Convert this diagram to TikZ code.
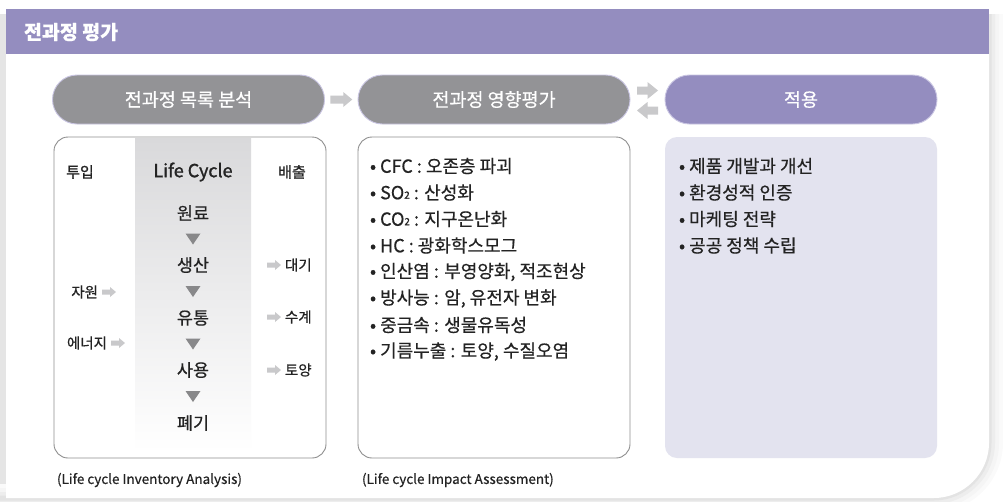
\documentclass[tikz,border=0pt]{standalone}
\usepackage{fontspec}
\setmainfont{Noto Sans CJK KR}[FakeBold=0.5]
\newfontfamily\medfont{Noto Sans CJK KR}[FakeBold=1.4]
\usetikzlibrary{calc}
\definecolor{hdr}{HTML}{948DBF}
\definecolor{pillgray}{HTML}{939396}
\definecolor{pillline}{HTML}{C9C5E2}
\definecolor{arrgray}{HTML}{C9C9CB}
\definecolor{boxline}{HTML}{8E8E8E}
\definecolor{lav}{HTML}{E3E3EF}
\definecolor{txt}{HTML}{232323}
\definecolor{trigray}{HTML}{88888A}
\definecolor{colgray}{HTML}{D9D9DB}
\newcommand\fs[1]{\fontsize{#1}{#1}\selectfont}
\newcommand\subtwo{\raisebox{0.5pt}{\fs{10}2}}
\tikzset{
  every node/.style={inner sep=0pt, outer sep=0pt},
  pill/.style={draw=pillline, line width=0.9pt, rounded corners=24.5pt,
    minimum width=272pt, minimum height=49pt, text=white, font=\fs{18.5}},
  framebox/.style={draw=boxline, line width=0.9pt, rounded corners=14pt,
    minimum width=272pt, minimum height=321pt},
  stagetext/.style={text=txt, font=\fs{17.5}},
  colhead/.style={text=txt, font=\medfont\fs{15}},
  smalltext/.style={text=txt, font=\fs{14.5}},
  itemtext/.style={text=txt, font=\fs{18}, anchor=west},
  captext/.style={text=txt, font=\fs{13.5}, anchor=west},
  pics/smallarr/.style={code={\fill[arrgray] (-7,-2.5) -- (1,-2.5) -- (1,-5) -- (7,0) -- (1,5) -- (1,2.5) -- (-7,2.5) -- cycle;}},
  pics/bigarr/.style={code={\fill[arrgray] (-11,-4) -- (2,-4) -- (2,-7.5) -- (11,0) -- (2,7.5) -- (2,4) -- (-11,4) -- cycle;}},
  pics/dblarr/.style={code={\fill[arrgray] (-10.5,-4) -- (0,-4) -- (0,-8.5) -- (10.5,0) -- (0,8.5) -- (0,4) -- (-10.5,4) -- cycle;}},
  pics/downtri/.style={code={\fill[trigray] (-7.5,-5.5) -- (7.5,-5.5) -- (0,5.5) -- cycle;}},
}
\begin{document}
\begin{tikzpicture}[x=1pt,y=-1pt]
\useasboundingbox (0,0) rectangle (1003,501);
% shadows of the panel
\fill[black!10] (0,14) rectangle (6,498);
\foreach \w/\c in {28/2,20/4,12/7,5/11}
  \draw[line width=\w pt, black!\c] (989,14) -- (989,443) .. controls (989,473) and (964,498) .. (934,498) -- (0,498);
% white panel
\fill[white] (6,9) -- (989,9) -- (989,443) .. controls (989,473) and (964,498) .. (934,498) -- (6,498) -- cycle;
% header
\fill[hdr] (6,9) rectangle (989,54);
\node[anchor=west, text=white, font=\bfseries\fs{19.5}] (title) at (24,32) {전과정 평가};
% pills
\node[pill, fill=pillgray] (p1) at (188.5,99.5) {전과정 목록 분석};
\node[pill, fill=pillgray] (p2) at (494,99.5) {전과정 영향평가};
\node[pill, fill=hdr] (p3) at (801,99.5) {적용};
\pic at ($(p1.east)!0.5!(p2.west)$) {bigarr};
\pic at ($(p2.east)!0.5!(p3.west)+(0,-9)$) {dblarr};
\pic[xscale=-1] at ($(p2.east)!0.5!(p3.west)+(0,11)$) {dblarr};
% box 1
\shade[top color=colgray, bottom color=white] (135,138) rectangle (251,452);
\node[framebox] (b1) at (190,297.5) {};
\node[colhead] (tin) at (80,172) {투입};
\node[text=txt, font=\medfont\fs{18}] (tlc) at (193,172) {Life Cycle};
\node[colhead] (tout) at (292,172) {배출};
\node[stagetext] (s1) at (193,213) {원료};
\node[stagetext] (s2) at (193,265) {생산};
\node[stagetext] (s3) at (193,318) {유통};
\node[stagetext] (s4) at (193,370) {사용};
\node[stagetext] (s5) at (193,423) {폐기};
\pic at ($(s1)!0.5!(s2)$) {downtri};
\pic at ($(s2)!0.5!(s3)$) {downtri};
\pic at ($(s3)!0.5!(s4)$) {downtri};
\pic at ($(s4)!0.5!(s5)$) {downtri};
\node[smalltext, anchor=east] (r1) at (98,292) {자원};
\pic at ($(r1.east)+(11,0)$) {smallarr};
\node[smalltext, anchor=east] (r2) at (107,343) {에너지};
\pic at ($(r2.east)+(11,0)$) {smallarr};
\node[smalltext, anchor=west] (o1) at (285,265) {대기};
\pic at ($(o1.west)+(-11,0)$) {smallarr};
\node[smalltext, anchor=west] (o2) at (285,317) {수계};
\pic at ($(o2.west)+(-11,0)$) {smallarr};
\node[smalltext, anchor=west] (o3) at (285,370) {토양};
\pic at ($(o3.west)+(-11,0)$) {smallarr};
\node[captext] (c1) at (57,480) {(Life cycle Inventory Analysis)};
% box 2
\node[framebox] (b2) at (494,297.5) {};
\node[itemtext] (i1) at (370,166) {• CFC : 오존층 파괴};
\node[itemtext] (i2) at (370,192.5) {• SO\subtwo{} : 산성화};
\node[itemtext] (i3) at (370,219) {• CO\subtwo{} : 지구온난화};
\node[itemtext] (i4) at (370,245.5) {• HC : 광화학스모그};
\node[itemtext] (i5) at (370,272) {• 인산염 : 부영양화, 적조현상};
\node[itemtext] (i6) at (370,298.5) {• 방사능 : 암, 유전자 변화};
\node[itemtext] (i7) at (370,325) {• 중금속 : 생물유독성};
\node[itemtext] (i8) at (370,351.5) {• 기름누출 : 토양, 수질오염};
\node[captext] (c2) at (362,480) {(Life cycle Impact Assessment)};
% box 3
\node[framebox, draw=none, fill=lav, rounded corners=12pt] (b3) at (801,297.5) {};
\node[itemtext] (j1) at (679,166) {• 제품 개발과 개선};
\node[itemtext] (j2) at (679,192.5) {• 환경성적 인증};
\node[itemtext] (j3) at (679,219) {• 마케팅 전략};
\node[itemtext] (j4) at (679,245.5) {• 공공 정책 수립};
\end{tikzpicture}
\end{document}
